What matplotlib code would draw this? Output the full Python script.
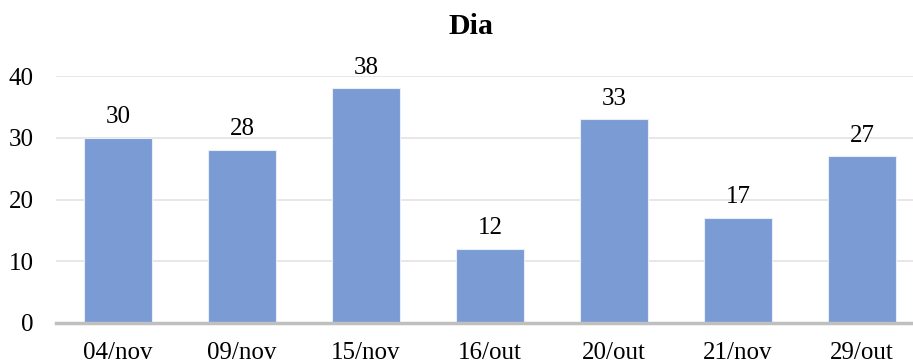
import matplotlib.pyplot as plt

dias = ['04/nov', '09/nov', '15/nov', '16/out', '20/out', '21/nov', '29/out']
valores = [30, 28, 38, 12, 33, 17, 27]
yticks = [0, 10, 20, 30, 40]

plt.rcParams['font.family'] = ['Liberation Serif', 'DejaVu Serif']

fig = plt.figure(figsize=(9.13, 3.6), dpi=100)
ax = fig.add_axes([0.0613, 0.1028, 0.9387, 0.686])

x = range(len(dias))
barras = ax.bar(x, valores, width=0.55, color='#7A9BD4', edgecolor='#E8EEF8',
                linewidth=0.8, zorder=3)

for b, v in zip(barras, valores):
    ax.annotate(str(v), (b.get_x() + b.get_width() / 2, v),
                xytext=(0, 7), textcoords='offset points',
                ha='center', va='bottom', fontsize=18)

ax.set_ylim(0, 40)
ax.set_xlim(-0.5, 6.41)
ax.set_yticks(yticks)
ax.set_xticks(list(x))
ax.set_xticklabels(dias)
ax.tick_params(axis='both', length=0, labelsize=18)
ax.tick_params(axis='y', pad=16)
ax.tick_params(axis='x', pad=14)

ax.grid(axis='y', color='#E3E3E3', linewidth=1.2, zorder=0)
for s in ['top', 'right', 'left']:
    ax.spines[s].set_visible(False)
ax.spines['bottom'].set_color('#BFBFBF')
ax.spines['bottom'].set_linewidth(2.5)
ax.spines['bottom'].set_zorder(4)

fig.text(0.516, 0.925, 'Dia', ha='center', va='center',
         fontsize=21.5, fontweight='bold')

fig.savefig('out.png', dpi=100)
